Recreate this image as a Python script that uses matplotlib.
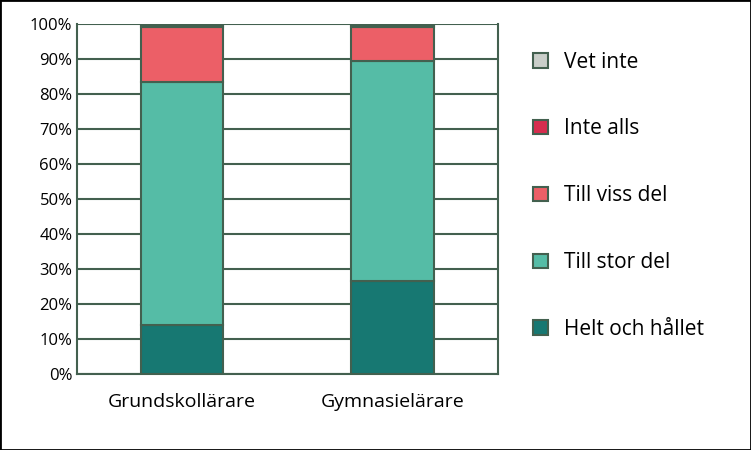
import matplotlib.pyplot as plt
import numpy as np

categories = ["Grundskollärare", "Gymnasielärare"]
series = ["Helt och hållet", "Till stor del", "Till viss del", "Inte alls", "Vet inte"]
values = {
    "Helt och hållet": [14.0, 26.5],
    "Till stor del": [69.5, 63.0],
    "Till viss del": [15.7, 9.6],
    "Inte alls": [0.4, 0.5],
    "Vet inte": [0.4, 0.4],
}
colors = ["#177872", "#55bca6", "#ec5f67", "#d62d4e", "#c9cec9"]
edge = "#43604f"

plt.rcParams['font.family'] = ['Open Sans', 'DejaVu Sans']
fig = plt.figure(figsize=(7.51, 4.5), dpi=100)
ax = fig.add_axes([0.103, 0.169, 0.56, 0.778])
x = np.arange(len(categories))
bottom = np.zeros(len(categories))
handles = []
for s, c in zip(series, colors):
    b = ax.bar(x, values[s], 0.39, bottom=bottom, color=c, edgecolor=edge, linewidth=1.5, label=s, zorder=3)
    bottom += np.array(values[s])
    handles.append(b)
ax.set_xlim(-0.495, 1.5)
ax.set_ylim(0, 100)
ax.set_yticks(range(0, 101, 10))
ax.set_yticklabels([f"{v}%" for v in range(0, 101, 10)], fontsize=12)
ax.set_xticks(x)
ax.set_xticklabels(categories, fontsize=14)
ax.tick_params(length=0)
ax.tick_params(axis='x', pad=14)
ax.grid(axis='y', color=edge, linewidth=1.5, zorder=0)
for sp in ax.spines.values():
    sp.set_color(edge)
    sp.set_linewidth(1.5)
ax.spines['top'].set_visible(False)
leg = fig.legend(handles[::-1], series[::-1], loc='center left', bbox_to_anchor=(0.685, 0.565),
                 frameon=False, fontsize=15, labelspacing=2.2, handlelength=0.7, handleheight=0.7)
fig.patches.append(plt.Rectangle((0, 0), 1, 1, transform=fig.transFigure, fill=False,
                                 edgecolor='black', linewidth=2))
fig.savefig("out.png", dpi=100)
